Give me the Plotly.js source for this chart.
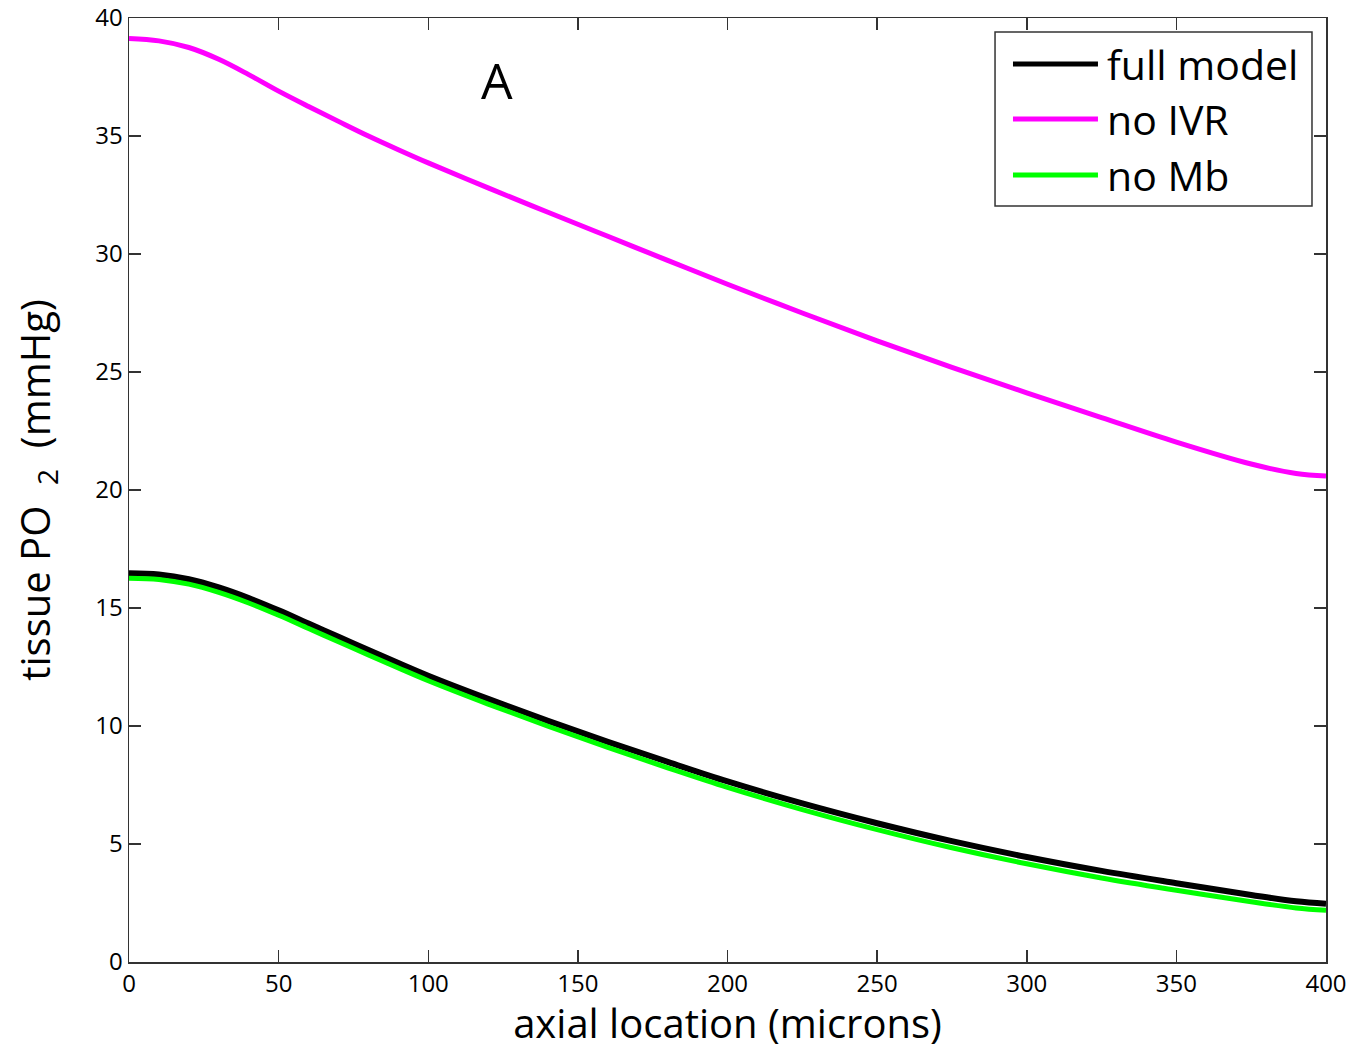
<!DOCTYPE html>
<html>
<head>
<meta charset="utf-8">
<script src="https://cdn.plot.ly/plotly-3.0.1.min.js"></script>
<style>html,body{margin:0;padding:0;background:#fff;}#chart{width:1364px;height:1050px;}</style>
</head>
<body>
<div id="chart"></div>
<script>
const axialLocation = [0, 10, 20, 30, 40, 50, 60, 70, 80, 90, 100, 120, 140, 160, 180, 200, 225, 250, 275, 300, 325, 350, 375, 390, 400];
const fullModel = [16.47, 16.42, 16.22, 15.87, 15.42, 14.9, 14.34, 13.78, 13.22, 12.67, 12.13, 11.15, 10.22, 9.33, 8.48, 7.65, 6.72, 5.88, 5.12, 4.45, 3.86, 3.34, 2.84, 2.57, 2.47];
const noIVR = [39.13, 39.03, 38.75, 38.25, 37.6, 36.9, 36.25, 35.62, 35.0, 34.42, 33.86, 32.8, 31.77, 30.75, 29.73, 28.72, 27.5, 26.32, 25.2, 24.12, 23.07, 22.03, 21.1, 20.7, 20.59];
const noMb = [16.26, 16.21, 16.01, 15.66, 15.21, 14.69, 14.13, 13.57, 13.01, 12.46, 11.92, 10.93, 9.99, 9.09, 8.23, 7.4, 6.46, 5.61, 4.84, 4.16, 3.56, 3.04, 2.55, 2.29, 2.19];
const seriesNames = ['full model', 'no IVR', 'no Mb'];
const seriesColors = ['#000000', '#ff00ff', '#00ff00'];
const xTicks = [0, 50, 100, 150, 200, 250, 300, 350, 400];
const yTicks = [0, 5, 10, 15, 20, 25, 30, 35, 40];

const font = '"Open Sans", "Noto Sans", sans-serif';
const seriesValues = [fullModel, noIVR, noMb];
const widths = [6, 5, 5];
const traces = seriesValues.map((vals, i) => ({
  x: axialLocation, y: vals, name: seriesNames[i], mode: 'lines',
  line: {color: seriesColors[i], width: widths[i], shape: 'spline', smoothing: 1}
}));

const axisCommon = {
  showgrid: false, zeroline: false, showline: true, linecolor: '#333333', linewidth: 1.5,
  mirror: 'ticks', ticks: 'inside', ticklen: 12, tickwidth: 1.5, tickcolor: '#333333',
  tickfont: {family: font, size: 24, color: '#000'}
};

// custom legend (paper coordinates) to match the long line samples of the reference
const legX0 = 0.7235, legX1 = 0.9883, legY0 = 0.8008, legY1 = 0.9852;
const rowY = [0.9513, 0.8930, 0.8337];
const shapes = [{
  type: 'rect', xref: 'paper', yref: 'paper', x0: legX0, x1: legX1, y0: legY0, y1: legY1,
  line: {color: '#333333', width: 1.5}, fillcolor: '#ffffff', layer: 'above'
}];
const annotations = [{
  x: 122.9, y: 37.37, xref: 'x', yref: 'y', text: 'A', showarrow: false,
  font: {family: font, size: 50, color: '#000'}
}];
seriesNames.forEach((nm, i) => {
  shapes.push({
    type: 'line', xref: 'paper', yref: 'paper', x0: 0.7385, x1: 0.8095, y0: rowY[i], y1: rowY[i],
    line: {color: seriesColors[i], width: 5}, layer: 'above'
  });
  annotations.push({
    xref: 'paper', yref: 'paper', x: 0.815, y: rowY[i], xanchor: 'left', yanchor: 'middle',
    text: nm, showarrow: false, font: {family: font, size: 41, color: '#000'}
  });
});

const layout = {
  width: 1364, height: 1050,
  margin: {l: 129, r: 38, t: 18, b: 88},
  paper_bgcolor: '#fff', plot_bgcolor: '#fff',
  font: {family: font, color: '#000'},
  showlegend: false,
  xaxis: Object.assign({}, axisCommon, {
    range: [0, 400], tickvals: xTicks, ticktext: xTicks.map(String), ticklabelstandoff: 0,
    title: {text: 'axial location (microns)', font: {family: font, size: 40}, standoff: 8}
  }),
  yaxis: Object.assign({}, axisCommon, {
    range: [0, 40], tickvals: yTicks, ticktext: yTicks.map(String),
    title: {text: 'tissue PO\u00A0\u00A0<sub>2</sub>\u00A0\u00A0(mmHg)', font: {family: font, size: 40}, standoff: 32}
  }),
  shapes: shapes,
  annotations: annotations
};
Plotly.newPlot('chart', traces, layout, {displayModeBar: false, staticPlot: true});
</script>
</body>
</html>
